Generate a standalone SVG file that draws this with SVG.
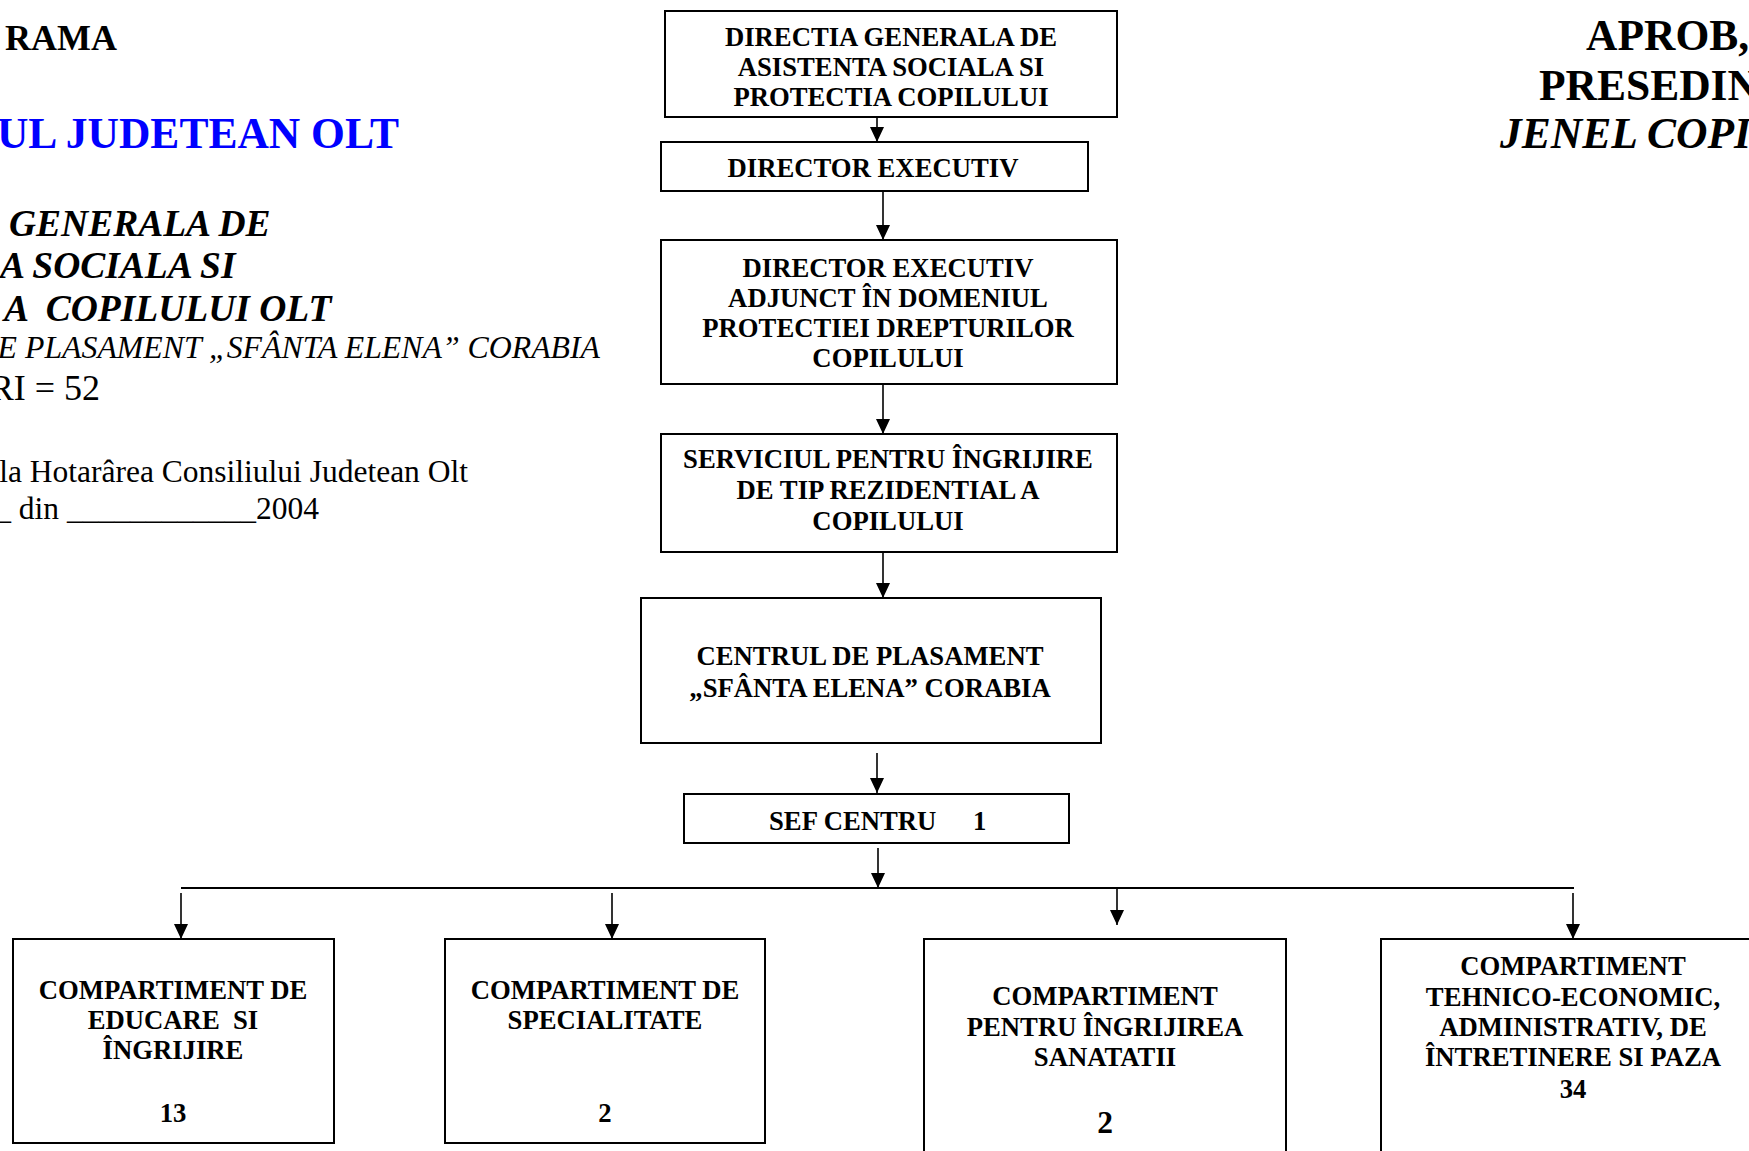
<svg xmlns="http://www.w3.org/2000/svg" width="1749" height="1151" viewBox="0 0 1749 1151">
<defs>
<marker id="ah" markerWidth="15" markerHeight="14" refX="15" refY="7" orient="auto" markerUnits="userSpaceOnUse" viewBox="0 0 15 14"><path d="M0,0 L15,7 L0,14 z" fill="#000"/></marker>
<style>
.t{font-family:"Liberation Serif","Times New Roman",serif;fill:#000}
.b{font-weight:bold}
.i{font-style:italic}
.box{fill:#fff;stroke:#000;stroke-width:2}
.bt{font-family:"Liberation Serif","Times New Roman",serif;font-weight:bold;font-size:26.7px;text-anchor:middle;fill:#000}
.c{stroke:#000;stroke-width:1.6;fill:none}
.ca{stroke:#000;stroke-width:1.6;fill:none;marker-end:url(#ah)}
</style>
</defs>
<rect width="1749" height="1151" fill="#fff"/>
<g id="header-left">
<text class="t b" x="5" y="50" font-size="36">RAMA</text>
<text class="t b" x="399" y="148" font-size="43.5" text-anchor="end" style="fill:#0000ff">UL JUDETEAN OLT</text>
<text class="t b i" x="9" y="236" font-size="37.5">GENERALA DE</text>
<text class="t b i" x="0" y="278" font-size="37.5">A SOCIALA SI</text>
<text class="t b i" x="4" y="321" font-size="37.5" xml:space="preserve">A  COPILULUI OLT</text>
<text class="t i" x="600" y="358" font-size="31.8" text-anchor="end">E PLASAMENT „SFÂNTA ELENA” CORABIA</text>
<text class="t" x="100" y="400" font-size="36" text-anchor="end">RI = 52</text>
<text class="t" x="468" y="482" font-size="31.5" text-anchor="end">la Hotarârea Consiliului Judetean Olt</text>
<text class="t" x="319" y="519" font-size="31.5" text-anchor="end">_ din ____________2004</text>
</g>
<g id="header-right">
<text class="t b" x="1586" y="50" font-size="43.5">APROB,</text>
<text class="t b" x="1539" y="100" font-size="43.5">PRESEDIN</text>
<text class="t b i" x="1500" y="148" font-size="43.5">JENEL COPI</text>
</g>
<g id="connectors">
<line class="ca" x1="877" y1="117" x2="877" y2="142"/>
<line class="ca" x1="883" y1="191" x2="883" y2="240"/>
<line class="ca" x1="883" y1="384" x2="883" y2="434"/>
<line class="ca" x1="883" y1="552" x2="883" y2="598"/>
<line class="ca" x1="877" y1="753" x2="877" y2="793"/>
<line class="ca" x1="878" y1="848" x2="878" y2="888"/>
<line class="c" x1="181" y1="888" x2="1574" y2="888" style="stroke-width:2"/>
<line class="ca" x1="181" y1="893" x2="181" y2="939"/>
<line class="ca" x1="612" y1="893" x2="612" y2="939"/>
<line class="ca" x1="1117" y1="888" x2="1117" y2="925"/>
<line class="ca" x1="1573" y1="893" x2="1573" y2="939"/>
</g>
<g id="n-dgaspc">
<rect class="box" x="665" y="11" width="452" height="106"/>
<text class="bt" x="891" y="46">DIRECTIA GENERALA DE</text>
<text class="bt" x="891" y="76">ASISTENTA SOCIALA SI</text>
<text class="bt" x="891" y="106">PROTECTIA COPILULUI</text>
</g>
<g id="n-director">
<rect class="box" x="661" y="142" width="427" height="49"/>
<text class="bt" x="873" y="177">DIRECTOR EXECUTIV</text>
</g>
<g id="n-adjunct">
<rect class="box" x="661" y="240" width="456" height="144"/>
<text class="bt" x="888" y="277">DIRECTOR EXECUTIV</text>
<text class="bt" x="888" y="307">ADJUNCT ÎN DOMENIUL</text>
<text class="bt" x="888" y="337">PROTECTIEI DREPTURILOR</text>
<text class="bt" x="888" y="367">COPILULUI</text>
</g>
<g id="n-serviciul">
<rect class="box" x="661" y="434" width="456" height="118"/>
<text class="bt" x="888" y="468">SERVICIUL PENTRU ÎNGRIJIRE</text>
<text class="bt" x="888" y="499">DE TIP REZIDENTIAL A</text>
<text class="bt" x="888" y="530">COPILULUI</text>
</g>
<g id="n-centrul">
<rect class="box" x="641" y="598" width="460" height="145"/>
<text class="bt" x="870" y="665">CENTRUL DE PLASAMENT</text>
<text class="bt" x="870" y="697">„SFÂNTA ELENA” CORABIA</text>
</g>
<g id="n-sef">
<rect class="box" x="684" y="794" width="385" height="49"/>
<text class="bt" style="text-anchor:start" y="830"><tspan x="769">SEF CENTRU</tspan><tspan x="973">1</tspan></text>
</g>
<g id="n-educare">
<rect class="box" x="13" y="939" width="321" height="204"/>
<text class="bt" x="173" y="999">COMPARTIMENT DE</text>
<text class="bt" x="173" y="1029" xml:space="preserve">EDUCARE  SI</text>
<text class="bt" x="173" y="1059">ÎNGRIJIRE</text>
<text class="bt" x="173" y="1122">13</text>
</g>
<g id="n-specialitate">
<rect class="box" x="445" y="939" width="320" height="204"/>
<text class="bt" x="605" y="999">COMPARTIMENT DE</text>
<text class="bt" x="605" y="1029">SPECIALITATE</text>
<text class="bt" x="605" y="1122">2</text>
</g>
<g id="n-sanatate">
<rect class="box" x="924" y="939" width="362" height="230"/>
<text class="bt" x="1105" y="1005">COMPARTIMENT</text>
<text class="bt" x="1105" y="1036">PENTRU ÎNGRIJIREA</text>
<text class="bt" x="1105" y="1066">SANATATII</text>
<text class="bt" x="1105" y="1133" style="font-size:31.5px">2</text>
</g>
<g id="n-tehnic">
<rect class="box" x="1381" y="939" width="400" height="230"/>
<text class="bt" x="1573" y="975">COMPARTIMENT</text>
<text class="bt" x="1573" y="1006">TEHNICO-ECONOMIC,</text>
<text class="bt" x="1573" y="1036">ADMINISTRATIV, DE</text>
<text class="bt" x="1573" y="1066">ÎNTRETINERE SI PAZA</text>
<text class="bt" x="1573" y="1098">34</text>
</g>
</svg>
